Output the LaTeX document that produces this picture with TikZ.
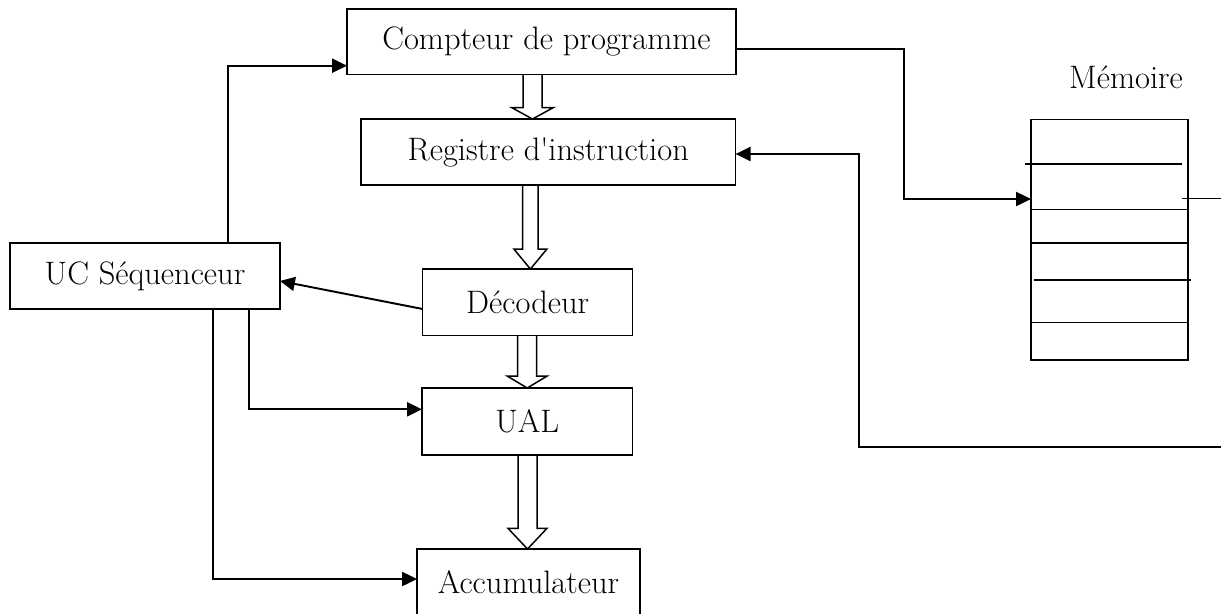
\documentclass[tikz,border=0pt]{standalone}
\usepackage{fontspec}
\setmainfont{Latin Modern Roman}[Ligatures=TeXOff]
\usetikzlibrary{calc,arrows.meta}

\tikzset{
  box/.style={draw, line width=0.85pt, rectangle, inner sep=0pt, outer sep=0pt,
              font=\fontsize{18.5}{21}\selectfont},
  conn/.style={line width=1.1pt, -{Triangle[length=8.5pt,width=8pt]}},
  thin/.style={line width=0.85pt},
  hollow/.style={draw, line width=0.85pt, line join=miter},
  lbl/.style={font=\fontsize{18.5}{21}\selectfont, inner sep=0pt}
}

% Block arrow pointing down from node #1 to node #2:
% #3 centre x, #4 half stem width, #5 half head width, #6 head length
\newcommand\blockarrow[6]{%
  \path[hollow] let \p1=(#1.south), \p2=(#2.north), \p3=(#3,0),
                    \p4=(#4,0), \p5=(#5,0), \p6=(0,#6) in
    (\x3-\x4,\y1) -- (\x3-\x4,\y2-\y6) -- (\x3-\x5,\y2-\y6) -- (\x3,\y2)
    -- (\x3+\x5,\y2-\y6) -- (\x3+\x4,\y2-\y6) -- (\x3+\x4,\y1);
}

\begin{document}
\begin{tikzpicture}[x=0.02cm, y=-0.02cm]
  \clip (0,0) rectangle (1221,613);

  % processor blocks
  \node[box, minimum width=7.78cm,  minimum height=1.31cm]  (cp)  at (541.5,41.5) {\hspace*{0.2cm}Compteur de programme};
  \node[box, minimum width=7.494cm, minimum height=1.32cm]  (ri)  at (548.3,152)  {Registre d'instruction};
  \node[box, minimum width=4.2cm,   minimum height=1.334cm] (dec) at (527.7,302.4) {Décodeur};
  \node[box, minimum width=4.214cm, minimum height=1.34cm]  (ual) at (527.3,421.5) {UAL};
  \node[box, minimum width=4.46cm,  minimum height=1.32cm]  (acc) at (528.5,582)  {Accumulateur};
  \node[box, minimum width=5.4cm,   minimum height=1.32cm]  (uc)  at (145,276)    {UC Séquenceur};

  % memory
  \node[lbl, anchor=base] (memlbl) at (1126,88.3) {Mémoire};
  \node[box, minimum width=3.14cm, minimum height=4.814cm] (mem) at (1109.5,239.7) {};
  \draw[thin] ($(mem.north west)+(-6,44.7)$)  -- ++(156.7,0);
  \draw[thin] ($(mem.north west)+(0,90)$)     -- ($(mem.north east)+(0,90)$);
  \draw[thin] ($(mem.north west)+(0,123.4)$)  -- ($(mem.north east)+(0,123.4)$);
  \draw[thin] ($(mem.north west)+(3,160.7)$)  -- ++(157,0);
  \draw[thin] ($(mem.north west)+(0,203)$)    -- ($(mem.north east)+(0,203)$);
  \coordinate (mout) at (1225,198.5);
  \draw[thin] ($(mem.east)+(-6,-41.2)$) -- (mout);

  % data paths (hollow arrows)
  \blockarrow{cp}{ri}{532.5}{9.5}{21}{11.5}
  \blockarrow{ri}{dec}{530.4}{7.7}{16.5}{20}
  \blockarrow{dec}{ual}{527.2}{9.5}{20}{12}
  \blockarrow{ual}{acc}{527.5}{9.5}{19.5}{20.7}

  % control lines
  \draw[conn] ($(uc.north)+(83,0)$) |- ($(cp.west)+(0,24.2)$);
  \draw[conn] ($(dec.west)+(0,6.6)$) -- ($(uc.east)+(0,5)$);
  \draw[conn] ($(uc.south)+(104,0)$) |- ($(ual.west)+(0,-12.2)$);
  \draw[conn] ($(uc.south)+(68,0)$) |- ($(acc.west)+(0,-3)$);

  % address and data buses
  \draw[conn] ($(cp.east)+(0,7.8)$) -- ++(168,0) |- ($(mem.west)+(0,-40.7)$);
  \coordinate (rin) at (1225,447.3);
  \draw[conn] (rin) -- ++(-365.7,0) |- ($(ri.east)+(0,2)$);
\end{tikzpicture}
\end{document}
